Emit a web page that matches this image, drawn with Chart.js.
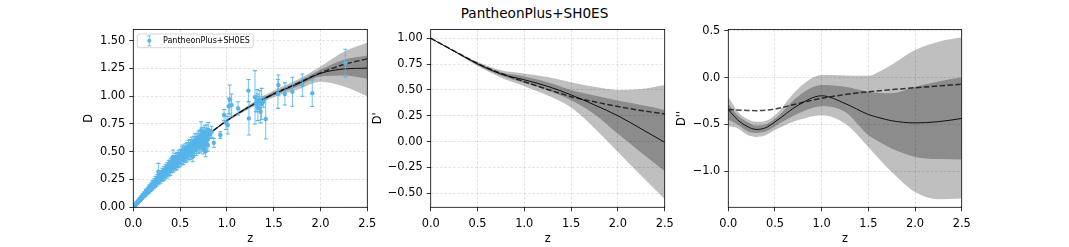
<!DOCTYPE html>
<html>
<head>
<meta charset="utf-8">
<script src="https://cdn.jsdelivr.net/npm/chart.js@4/dist/chart.umd.min.js"></script>
<style>
  body { margin: 0; background: #fff; }
  #wrap { position: relative; width: 1069px; height: 247px; overflow: hidden; }
  canvas { position: absolute; left: 0; top: 0; }
  #suptitle { position: absolute; left: 0; top: 4.5px; width: 1069px; text-align: center;
              font: 13.6px "DejaVu Sans"; color: #000; }
</style>
</head>
<body>
<div id="wrap">
  <div id="suptitle">PantheonPlus+SH0ES</div>
  <canvas id="dPlot" width="1069" height="247"></canvas>
  <canvas id="dpPlot" width="1069" height="247"></canvas>
  <canvas id="dppPlot" width="1069" height="247"></canvas>
</div>
<script>
// values
const xTicks = [0, 0.5, 1, 1.5, 2, 2.5];

// panel 1: supernova D(z) with error bars
const snZ = [
  0.005, 0.010, 0.015, 0.020, 0.025, 0.030, 0.035, 0.040, 0.045, 0.050, 0.055, 0.060, 0.065, 0.070, 0.075, 0.080,
  0.085, 0.090, 0.095, 0.100, 0.105, 0.110, 0.115, 0.120, 0.125, 0.130, 0.135, 0.140, 0.145, 0.150, 0.155, 0.160,
  0.165, 0.170, 0.175, 0.180, 0.185, 0.190, 0.195, 0.200, 0.205, 0.210, 0.215, 0.220, 0.225, 0.230, 0.235, 0.240,
  0.245, 0.250, 0.255, 0.260, 0.265, 0.270, 0.275, 0.280, 0.285, 0.290, 0.295, 0.300, 0.305, 0.310, 0.315, 0.320,
  0.325, 0.330, 0.335, 0.340, 0.345, 0.350, 0.355, 0.360, 0.365, 0.370, 0.375, 0.380, 0.385, 0.390, 0.395, 0.400,
  0.405, 0.410, 0.415, 0.420, 0.425, 0.430, 0.435, 0.440, 0.445, 0.450, 0.455, 0.460, 0.465, 0.470, 0.475, 0.480,
  0.485, 0.490, 0.495, 0.500, 0.505, 0.510, 0.515, 0.520, 0.525, 0.530, 0.535, 0.540, 0.545, 0.550, 0.555, 0.560,
  0.565, 0.570, 0.575, 0.580, 0.585, 0.590, 0.595, 0.600, 0.605, 0.610, 0.615, 0.620, 0.625, 0.630, 0.635, 0.640,
  0.645, 0.650, 0.655, 0.660, 0.665, 0.670, 0.675, 0.680, 0.685, 0.690, 0.695, 0.700, 0.705, 0.710, 0.715, 0.720,
  0.725, 0.730, 0.735, 0.740, 0.745, 0.750, 0.755, 0.760, 0.765, 0.770, 0.775, 0.780, 0.785, 0.790, 0.795, 0.800,
  0.268, 0.424, 0.526, 0.634, 0.724, 0.748, 0.772, 0.796,
  0.820, 0.837, 0.860, 0.930, 0.970, 0.990, 1.010, 1.020, 1.030, 1.050, 1.120, 1.230, 1.235, 1.300, 1.310,
  1.320, 1.330, 1.340, 1.350, 1.360, 1.370, 1.390, 1.415, 1.545, 1.550, 1.620, 1.700, 1.806, 1.912, 2.265
];
const snD = [
  0.006, 0.007, 0.017, 0.019, 0.022, 0.034, 0.034, 0.041, 0.039, 0.054, 0.053, 0.054, 0.071, 0.069, 0.076, 0.071,
  0.090, 0.086, 0.086, 0.108, 0.103, 0.111, 0.102, 0.126, 0.119, 0.118, 0.144, 0.136, 0.144, 0.132, 0.161, 0.151,
  0.149, 0.179, 0.169, 0.178, 0.163, 0.196, 0.184, 0.179, 0.215, 0.201, 0.211, 0.193, 0.230, 0.215, 0.209, 0.249,
  0.233, 0.244, 0.222, 0.264, 0.246, 0.239, 0.282, 0.263, 0.275, 0.250, 0.296, 0.276, 0.268, 0.315, 0.294, 0.306,
  0.278, 0.329, 0.306, 0.296, 0.348, 0.324, 0.337, 0.306, 0.360, 0.334, 0.323, 0.379, 0.353, 0.366, 0.332, 0.391,
  0.363, 0.350, 0.411, 0.381, 0.396, 0.357, 0.422, 0.390, 0.375, 0.443, 0.409, 0.424, 0.382, 0.451, 0.416, 0.401,
  0.470, 0.435, 0.451, 0.409, 0.477, 0.443, 0.427, 0.497, 0.462, 0.477, 0.433, 0.504, 0.468, 0.452, 0.524, 0.487,
  0.503, 0.458, 0.531, 0.493, 0.476, 0.550, 0.512, 0.529, 0.482, 0.557, 0.518, 0.500, 0.576, 0.537, 0.553, 0.505,
  0.582, 0.542, 0.524, 0.602, 0.561, 0.578, 0.528, 0.607, 0.566, 0.547, 0.627, 0.585, 0.602, 0.551, 0.631, 0.589,
  0.569, 0.651, 0.607, 0.625, 0.571, 0.655, 0.611, 0.590, 0.675, 0.629, 0.647, 0.592, 0.678, 0.632, 0.610, 0.698,
  0.320, 0.450, 0.500, 0.455, 0.690, 0.530, 0.505, 0.560,
  0.660, 0.680, 0.580, 0.650, 0.830, 0.760, 0.740, 0.910, 0.970, 0.920, 0.890, 1.050, 0.800, 0.990, 0.930,
  0.960, 0.900, 0.940, 0.970, 0.860, 0.930, 0.950, 0.795, 1.020, 1.100, 1.020, 1.040, 1.100, 1.027, 1.297
];
const snErr = [
  0.003, 0.005, 0.005, 0.005, 0.006, 0.006, 0.006, 0.006, 0.008, 0.008, 0.008, 0.010, 0.010, 0.011, 0.011, 0.011,
  0.013, 0.013, 0.014, 0.014, 0.014, 0.016, 0.016, 0.016, 0.018, 0.018, 0.018, 0.018, 0.019, 0.019, 0.019, 0.021,
  0.021, 0.021, 0.022, 0.022, 0.022, 0.022, 0.024, 0.024, 0.024, 0.026, 0.026, 0.026, 0.027, 0.027, 0.027, 0.029,
  0.029, 0.030, 0.030, 0.030, 0.032, 0.032, 0.032, 0.034, 0.034, 0.034, 0.035, 0.035, 0.035, 0.037, 0.037, 0.037,
  0.038, 0.038, 0.038, 0.040, 0.040, 0.040, 0.042, 0.042, 0.042, 0.042, 0.043, 0.043, 0.043, 0.043, 0.045, 0.045,
  0.038, 0.038, 0.038, 0.039, 0.039, 0.040, 0.040, 0.040, 0.042, 0.042, 0.042, 0.043, 0.043, 0.043, 0.043, 0.044,
  0.044, 0.044, 0.044, 0.044, 0.044, 0.046, 0.046, 0.046, 0.047, 0.047, 0.047, 0.047, 0.048, 0.048, 0.048, 0.049,
  0.049, 0.049, 0.051, 0.051, 0.051, 0.052, 0.052, 0.052, 0.053, 0.053, 0.055, 0.055, 0.055, 0.056, 0.056, 0.057,
  0.057, 0.057, 0.059, 0.059, 0.059, 0.059, 0.060, 0.060, 0.060, 0.060, 0.060, 0.060, 0.060, 0.061, 0.061, 0.061,
  0.062, 0.062, 0.062, 0.062, 0.064, 0.064, 0.064, 0.064, 0.064, 0.065, 0.065, 0.065, 0.065, 0.065, 0.065, 0.065,
  0.075, 0.065, 0.060, 0.045, 0.080, 0.050, 0.050, 0.055,
  0.040, 0.050, 0.040, 0.030, 0.050, 0.060, 0.080, 0.070, 0.130, 0.100, 0.060, 0.100, 0.150, 0.240, 0.070,
  0.100, 0.120, 0.060, 0.080, 0.100, 0.140, 0.050, 0.180, 0.130, 0.090, 0.100, 0.130, 0.100, 0.120, 0.125
];

// panel 1: reconstruction (mean, LCDM, 1 and 2 sigma)
const dZ    = [0, 0.25, 0.5, 0.75, 1.0, 1.25, 1.5, 1.75, 2.0, 2.25, 2.5];
const dMean = [0, 0.242, 0.44, 0.62, 0.78, 0.91, 1.02, 1.108, 1.205, 1.245, 1.252];
const dLcdm = [0, 0.242, 0.44, 0.62, 0.78, 0.91, 1.02, 1.115, 1.21, 1.285, 1.336];
const d1Up  = [0, 0.243, 0.442, 0.623, 0.785, 0.92, 1.035, 1.126, 1.237, 1.327, 1.366];
const d1Lo  = [0, 0.241, 0.438, 0.617, 0.775, 0.90, 1.005, 1.087, 1.177, 1.186, 1.156];
const d2Up  = [0, 0.244, 0.444, 0.626, 0.79, 0.93, 1.05, 1.147, 1.267, 1.40, 1.48];
const d2Lo  = [0, 0.240, 0.436, 0.614, 0.77, 0.89, 0.99, 1.057, 1.13, 1.087, 1.0];
const dTicks = [0, 0.25, 0.5, 0.75, 1, 1.25, 1.5];

// panel 2: D'
const pZ    = [0, 0.25, 0.5, 0.75, 1.0, 1.25, 1.5, 1.75, 2.0, 2.25, 2.5];
const pMean = [1.0, 0.875, 0.752, 0.655, 0.598, 0.535, 0.452, 0.355, 0.25, 0.123, -0.007];
const pLcdm = [1.0, 0.878, 0.757, 0.66, 0.58, 0.505, 0.435, 0.385, 0.34, 0.30, 0.268];
const p1Up  = [1.0, 0.878, 0.762, 0.67, 0.63, 0.575, 0.50, 0.445, 0.397, 0.353, 0.307];
const p1Lo  = [1.0, 0.872, 0.742, 0.64, 0.566, 0.495, 0.40, 0.265, 0.075, -0.107, -0.287];
const p2Up  = [1.0, 0.881, 0.772, 0.69, 0.66, 0.625, 0.574, 0.53, 0.50, 0.51, 0.549];
const p2Lo  = [1.0, 0.869, 0.732, 0.62, 0.535, 0.445, 0.33, 0.13, -0.10, -0.33, -0.555];
const pTicks = [-0.5, -0.25, 0, 0.25, 0.5, 0.75, 1];

// panel 3: D''
const qZ    = [0, 0.1, 0.2, 0.3, 0.4, 0.5, 0.75, 1.0, 1.25, 1.5, 1.625, 1.75, 2.0, 2.25, 2.5];
const qMean = [-0.34, -0.45, -0.52, -0.553, -0.535, -0.472, -0.293, -0.193, -0.275, -0.393, -0.43, -0.46, -0.483, -0.47, -0.436];
const qLcdm = [-0.34, -0.345, -0.35, -0.352, -0.348, -0.335, -0.275, -0.22, -0.18, -0.15, -0.138, -0.127, -0.107, -0.088, -0.07];
const q1Up  = [-0.28, -0.40, -0.47, -0.51, -0.50, -0.44, -0.197, -0.079, -0.097, -0.15, -0.162, -0.165, -0.097, -0.04, 0.004];
const q1Lo  = [-0.45, -0.50, -0.57, -0.59, -0.575, -0.518, -0.382, -0.304, -0.365, -0.615, -0.69, -0.757, -0.847, -0.87, -0.875];
const q2Up  = [-0.20, -0.36, -0.44, -0.472, -0.46, -0.40, -0.114, 0.028, 0.025, 0.02, 0.07, 0.14, 0.296, 0.385, 0.432];
const q2Lo  = [-0.52, -0.54, -0.61, -0.633, -0.615, -0.56, -0.453, -0.40, -0.49, -0.74, -0.88, -1.008, -1.222, -1.30, -1.293];
const qTicks = [-1, -0.5, 0, 0.5];

const BLUE = "#56B4E9";
const TICK_SIZE = 11.4;

Chart.defaults.font.family = "DejaVu Sans";
Chart.defaults.font.size = TICK_SIZE;
Chart.defaults.color = "#000";

const pts = (xs, ys) => xs.map((x, i) => ({ x: x, y: ys[i] }));
const fmt = (v, d) => (v < 0 ? "\u2212" : "") + Math.abs(v).toFixed(d);

// error bars drawn under the markers of any dataset that carries `errors`
const errorBars = {
  id: "errorBars",
  beforeDatasetDraw(chart, args) {
    const ds = chart.data.datasets[args.index];
    if (!ds.errors) return;
    const { ctx, chartArea: a, scales: { x, y } } = chart;
    ctx.save();
    ctx.beginPath();
    ctx.rect(a.left, a.top, a.right - a.left, a.bottom - a.top);
    ctx.clip();
    ctx.lineWidth = 1.1;
    ds.data.forEach((p, i) => {
      const px = x.getPixelForValue(p.x);
      const top = y.getPixelForValue(p.y + ds.errors[i]);
      const bot = y.getPixelForValue(p.y - ds.errors[i]);
      ctx.strokeStyle = "rgba(86,180,233,0.75)";
      ctx.beginPath();
      ctx.moveTo(px, top);
      ctx.lineTo(px, bot);
      ctx.stroke();
      ctx.strokeStyle = BLUE;
      ctx.beginPath();
      ctx.moveTo(px - 2, top); ctx.lineTo(px + 2, top);
      ctx.moveTo(px - 2, bot); ctx.lineTo(px + 2, bot);
      ctx.stroke();
    });
    ctx.restore();
  }
};

// full box round the plot, like matplotlib spines
const frame = {
  id: "frame",
  afterDatasetsDraw(chart) {
    const { ctx, chartArea: a } = chart;
    ctx.save();
    ctx.strokeStyle = "#000";
    ctx.lineWidth = 0.8;
    ctx.strokeRect(a.left, a.top, a.right - a.left, a.bottom - a.top);
    ctx.restore();
  }
};

Chart.register(errorBars, frame);

// legend inside the first panel
const legendBox = {
  id: "legendBox",
  afterDraw(chart) {
    const { ctx, chartArea: a } = chart;
    const ds = chart.data.datasets[0];
    const x0 = a.left + 4, y0 = a.top + 4.5, w = 116, h = 13.7;
    const mx = x0 + 12, my = y0 + h / 2;
    ctx.save();
    ctx.fillStyle = "rgba(255,255,255,0.8)";
    ctx.strokeStyle = "#cccccc";
    ctx.lineWidth = 0.8;
    ctx.beginPath();
    if (ctx.roundRect) ctx.roundRect(x0, y0, w, h, 2); else ctx.rect(x0, y0, w, h);
    ctx.fill();
    ctx.stroke();
    ctx.strokeStyle = "rgba(86,180,233,0.8)";
    ctx.lineWidth = 1;
    ctx.beginPath();
    ctx.moveTo(mx, my - 5); ctx.lineTo(mx, my + 5);
    ctx.moveTo(mx - 2, my - 5); ctx.lineTo(mx + 2, my - 5);
    ctx.moveTo(mx - 2, my + 5); ctx.lineTo(mx + 2, my + 5);
    ctx.stroke();
    ctx.fillStyle = BLUE;
    ctx.beginPath();
    ctx.arc(mx, my, 2, 0, Math.PI * 2);
    ctx.fill();
    ctx.fillStyle = "#000";
    ctx.font = '8px "DejaVu Sans"';
    ctx.textBaseline = "middle";
    ctx.fillText(ds.label, x0 + 25.7, my + 0.5);
    ctx.restore();
  }
};

function curve(xs, ys, extra) {
  return Object.assign({
    type: "line",
    data: pts(xs, ys),
    pointRadius: 0,
    borderWidth: 0,
    fill: false,
    cubicInterpolationMode: "monotone"
  }, extra);
}

function reconstruction(z, mean, lcdm, up1, lo1, up2, lo2) {
  return [
    curve(z, mean, { borderColor: "#000", borderWidth: 0.9 }),
    curve(z, lcdm, { borderColor: "rgba(0,0,0,0.72)", borderWidth: 1.5, borderDash: [5.5, 2.4] }),
    curve(z, up1, { fill: "+1", backgroundColor: "rgba(0,0,0,0.27)" }),
    curve(z, lo1, {}),
    curve(z, up2, { fill: "+1", backgroundColor: "rgba(0,0,0,0.25)" }),
    curve(z, lo2, {})
  ];
}

function axes(p) {
  const grid = {
    color: "rgba(0,0,0,0.14)",
    lineWidth: 0.8,
    tickColor: "#000",
    tickLength: 4,
    tickWidth: 0.8,
    tickBorderDash: []
  };
  const border = { display: false, dash: [2.8, 1.6] };
  return {
    x: {
      type: "linear", min: 0, max: 2.5,
      afterBuildTicks: s => { s.ticks = xTicks.map(v => ({ value: v })); },
      afterFit: s => { s.height = 39.7; },
      ticks: { callback: v => fmt(v, 1), padding: 5.5, maxRotation: 0, autoSkip: false },
      grid: grid, border: border,
      title: { display: true, text: "z", padding: { top: 0, bottom: 1.5 } }
    },
    y: {
      type: "linear", min: p.yMin, max: p.yMax,
      afterBuildTicks: s => { s.ticks = p.yTicks.map(v => ({ value: v })); },
      afterFit: s => { s.width = p.yWidth; },
      ticks: { callback: v => fmt(v, p.dec), padding: 4, autoSkip: false },
      grid: grid, border: border,
      title: { display: true, text: p.yTitle, padding: 0 }
    }
  };
}

function makePanel(id, datasets, p, plugins) {
  return new Chart(document.getElementById(id), {
    type: "line",
    data: { datasets: datasets },
    options: {
      responsive: false,
      animation: false,
      events: [],
      layout: { padding: { left: p.left, right: 1069 - p.right, top: 29.5, bottom: 0 } },
      plugins: { legend: { display: false }, tooltip: { enabled: false } },
      scales: axes(p)
    },
    plugins: plugins || []
  });
}

const snSet = {
  type: "line",
  label: "PantheonPlus+SH0ES",
  data: pts(snZ, snD),
  errors: snErr,
  showLine: false,
  pointRadius: 2.2,
  pointBorderWidth: 0,
  pointBackgroundColor: BLUE
};

makePanel("dPlot",
  [snSet].concat(reconstruction(dZ, dMean, dLcdm, d1Up, d1Lo, d2Up, d2Lo)),
  { left: 82.7, yWidth: 50.6, right: 367.3, yMin: 0, yMax: 1.6, yTicks: dTicks, dec: 2, yTitle: "D" },
  [legendBox]);

makePanel("dpPlot",
  reconstruction(pZ, pMean, pLcdm, p1Up, p1Lo, p2Up, p2Lo),
  { left: 371.5, yWidth: 59.2, right: 664.7, yMin: -0.636, yMax: 1.085, yTicks: pTicks, dec: 2, yTitle: "D'" });

makePanel("dppPlot",
  reconstruction(qZ, qMean, qLcdm, q1Up, q1Lo, q2Up, q2Lo),
  { left: 675.0, yWidth: 53.3, right: 961.7, yMin: -1.386, yMax: 0.516, yTicks: qTicks, dec: 1, yTitle: "D''" });
</script>
</body>
</html>
